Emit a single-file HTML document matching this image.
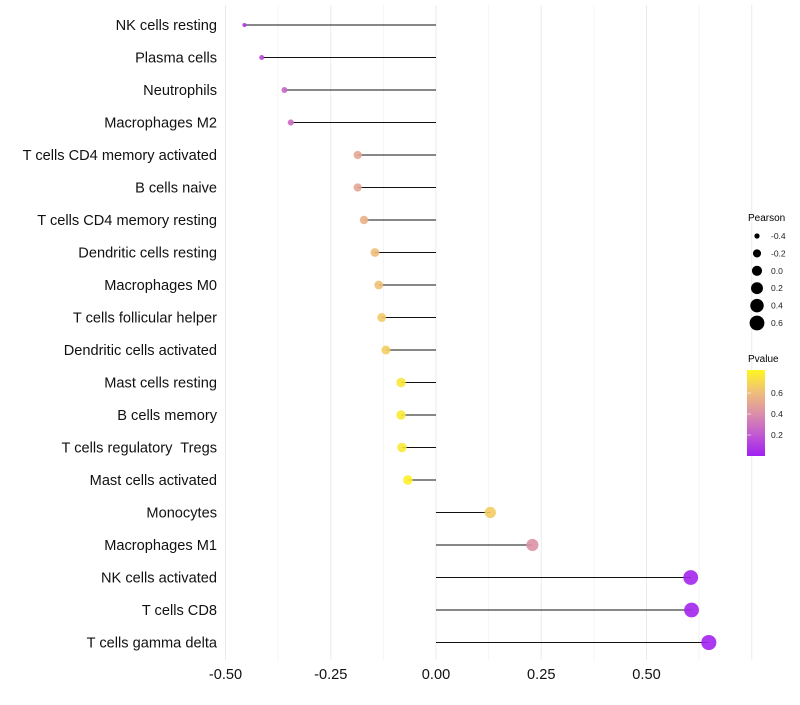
<!DOCTYPE html>
<html><head><meta charset="utf-8">
<style>
body{margin:0;background:#fff;font-family:"Liberation Sans",sans-serif;}
svg text{font-family:"Liberation Sans",sans-serif;white-space:pre;}
</style></head>
<body>
<svg id="chart" width="800" height="700" viewBox="0 0 800 700">
<defs>
<linearGradient id="pg" x1="0" y1="1" x2="0" y2="0">
<stop offset="0" stop-color="#a020f0"/>
<stop offset="0.25" stop-color="#c25ad2"/>
<stop offset="0.5" stop-color="#dc90a8"/>
<stop offset="0.75" stop-color="#f0c078"/>
<stop offset="1" stop-color="#fff620"/>
</linearGradient>
</defs>
<g id="grid"></g>
<g id="marks"></g>
<g id="ylabels"></g>
<g id="xlabels"></g>
<g id="sizeLegend">
<text x="748" y="221" font-size="10" fill="#000">Pearson</text>
</g>
<g>
<text x="748" y="362" font-size="10" fill="#000">Pvalue</text>
<rect x="747" y="370" width="18" height="86" fill="url(#pg)"/>
<g id="cticks"></g>
</g>
</svg>
<script>
const categories=["NK cells resting","Plasma cells","Neutrophils","Macrophages M2","T cells CD4 memory activated","B cells naive","T cells CD4 memory resting","Dendritic cells resting","Macrophages M0","T cells follicular helper","Dendritic cells activated","Mast cells resting","B cells memory","T cells regulatory  Tregs","Mast cells activated","Monocytes","Macrophages M1","NK cells activated","T cells CD8","T cells gamma delta"];
const pearson=[-0.455,-0.414,-0.36,-0.345,-0.186,-0.186,-0.171,-0.145,-0.136,-0.129,-0.119,-0.083,-0.083,-0.081,-0.067,0.129,0.229,0.605,0.607,0.648];
const pvalue=[0.08,0.15,0.25,0.27,0.5,0.5,0.55,0.6,0.62,0.65,0.67,0.76,0.77,0.77,0.8,0.66,0.42,0.02,0.02,0.01];
const xTicks=[-0.5,-0.25,0,0.25,0.5];
const xTickLabels=["-0.50","-0.25","0.00","0.25","0.50"];
const sizeBreaks=[-0.4,-0.2,0,0.2,0.4,0.6];
const sizeLabels=["-0.4","-0.2","0.0","0.2","0.4","0.6"];
const colorBreaks=[0.2,0.4,0.6];
const colorLabels=["0.2","0.4","0.6"];

const NS="http://www.w3.org/2000/svg";
const x=v=>436+v*421;
const y=i=>25+i*32.5;
const r=v=>Math.sqrt(Math.max(2,26+48*v));
const pMax=0.82;
const stops=[[0,[160,32,240]],[0.25,[194,90,210]],[0.5,[220,144,168]],[0.75,[240,192,120]],[1,[255,246,32]]];
function col(p){let t=Math.max(0,Math.min(1,p/pMax));for(let k=1;k<stops.length;k++){if(t<=stops[k][0]){const a=stops[k-1],b=stops[k];const f=(t-a[0])/(b[0]-a[0]);const c=a[1].map((v,j)=>Math.round(v+(b[1][j]-v)*f));return `rgb(${c})`;}}return "rgb(255,246,32)";}
function mk(tag,attrs,parent){const e=document.createElementNS(NS,tag);for(const k in attrs)e.setAttribute(k,attrs[k]);parent.appendChild(e);return e;}

const grid=document.getElementById('grid');
for(let v=-0.5;v<=0.751;v+=0.125){
  const g=mk('line',{x1:x(v),x2:x(v),y1:5,y2:660,stroke:Math.abs((v*4)%1)<1e-6?'#ebebeb':'#f4f4f4','stroke-width':1},grid);
  
  
}
const marks=document.getElementById('marks'),yl=document.getElementById('ylabels'),xl=document.getElementById('xlabels');
categories.forEach((c,i)=>{
  const l=mk('line',{x1:x(0),x2:x(pearson[i]),y1:y(i),y2:y(i),stroke:'#111','stroke-width':1},marks);
  
  
  const d=mk('circle',{cx:x(pearson[i]),cy:y(i),r:r(pearson[i]),fill:col(pvalue[i]),'fill-opacity':0.9},marks);
  
  
  const t=mk('text',{x:217,y:y(i)+5,'text-anchor':'end','font-size':14.6,fill:'#111'},yl);
  t.textContent=c;
  
  
});
xTicks.forEach((v,i)=>{
  const t=mk('text',{x:x(v),y:679,'text-anchor':'middle','font-size':14.6,fill:'#111'},xl);
  t.textContent=xTickLabels[i];
  
  
});
const sl=document.getElementById('sizeLegend');
sizeBreaks.forEach((v,i)=>{
  const cy=236+i*17.4;
  const c=mk('circle',{cx:757,cy:cy,r:r(v),fill:'#000'},sl);
  
  
  const t=mk('text',{x:771,y:cy+3,'font-size':8.5,fill:'#222'},sl);
  t.textContent=sizeLabels[i];
  
  
});
const ct=document.getElementById('cticks');
colorBreaks.forEach((v,i)=>{
  const yy=456-v/pMax*86;
  const l=mk('line',{x1:747,x2:751,y1:yy,y2:yy,stroke:'#fff','stroke-opacity':0.6},ct);
  
  
  const t=mk('text',{x:771,y:yy+3,'font-size':8.5,fill:'#222'},ct);
  t.textContent=colorLabels[i];
  
  
});
</script>
</body></html>
